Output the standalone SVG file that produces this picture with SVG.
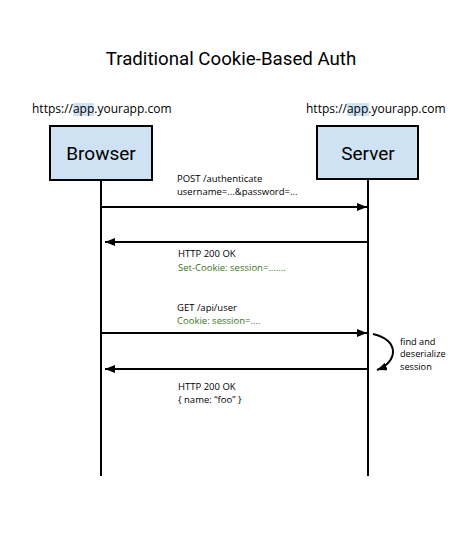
<svg xmlns="http://www.w3.org/2000/svg" width="464" height="540" viewBox="0 0 464 540">
<style>
.t{font-family:"Open Sans","Liberation Sans",sans-serif;font-size:9.5px;fill:#000}
.s{font-size:9.2px}
.g{fill:#38761d}
.url{font-family:"Open Sans","Liberation Sans",sans-serif;font-size:12px;fill:#000}
.box{fill:#cfe2f3;stroke:#000;stroke-width:2}
.lbl{font-family:Roboto,"Liberation Sans",sans-serif;font-size:19px;fill:#000;text-anchor:middle}
.ln{stroke:#000;stroke-width:2;fill:none}
.hl{fill:#cfe2f3}
</style>
<defs>
<marker id="ah" viewBox="0 0 10 8" refX="10" refY="4" markerWidth="10" markerHeight="8" markerUnits="userSpaceOnUse" orient="auto">
<path d="M0,0 L10,4 L0,8 Z" fill="#000"/>
</marker>
</defs>
<rect width="464" height="540" fill="#fff"/>
<text x="231" y="65" font-family="Roboto,'Liberation Sans',sans-serif" font-size="18.7" text-anchor="middle">Traditional Cookie-Based Auth</text>
<g id="browser">
<rect class="hl" x="73" y="103" width="21" height="13"/>
<text class="url" x="32" y="113">https://app.yourapp.com</text>
<rect class="box" x="50" y="126" width="102" height="54"/>
<text class="lbl" x="101" y="160">Browser</text>
</g>
<g id="server">
<rect class="hl" x="347" y="103" width="22" height="13"/>
<text class="url" x="306" y="113">https://app.yourapp.com</text>
<rect class="box" x="317" y="126" width="101" height="53"/>
<text class="lbl" x="368" y="160">Server</text>
</g>
<g id="connectors">
<line class="ln" x1="101" y1="180" x2="101" y2="476"/>
<line class="ln" x1="368" y1="179" x2="368" y2="476"/>
<line class="ln" x1="101" y1="207" x2="367" y2="207" marker-end="url(#ah)"/>
<line class="ln" x1="367" y1="242" x2="105" y2="242" marker-end="url(#ah)"/>
<line class="ln" x1="101" y1="333" x2="367" y2="333" marker-end="url(#ah)"/>
<line class="ln" x1="367" y1="369" x2="105" y2="369" marker-end="url(#ah)"/>
<path class="ln" d="M373,334 C400,340 398,362 377,370" marker-end="url(#ah)"/>
</g>
<g id="labels">
<text class="t" x="177" y="182">POST /authenticate</text>
<text class="t" x="177" y="195">username=...&amp;password=...</text>
<text class="t" x="178" y="257">HTTP 200 OK</text>
<text class="t g" x="178" y="271">Set-Cookie: session=.......</text>
<text class="t" x="177" y="311">GET /api/user</text>
<text class="t g" x="177" y="324">Cookie: session=....</text>
<text class="t" x="178" y="390">HTTP 200 OK</text>
<text class="t" x="178" y="403">{  name: “foo” }</text>
<text class="t s" x="400" y="344.5">find and</text>
<text class="t s" x="400" y="357">deserialize</text>
<text class="t s" x="400" y="369.5">session</text>
</g>
</svg>
